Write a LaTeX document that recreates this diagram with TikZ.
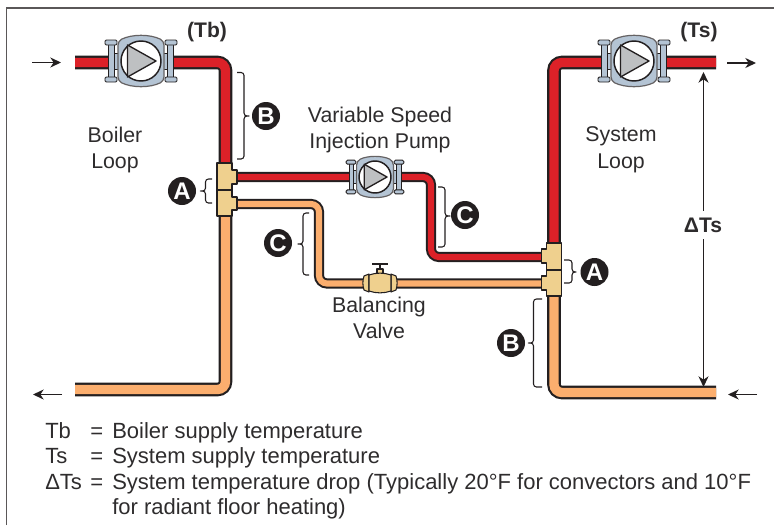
\documentclass[tikz,border=0pt]{standalone}
\usepackage{fontspec}
\setmainfont{Liberation Sans}
\usetikzlibrary{arrows.meta}
\definecolor{ink}{HTML}{231F20}
\definecolor{txt}{HTML}{2E2C2D}
\definecolor{hot}{HTML}{DC2128}
\definecolor{warm}{HTML}{FBAE6E}
\definecolor{brass}{HTML}{EFD08E}
\definecolor{steel}{HTML}{B4C4D4}
\definecolor{cone}{HTML}{BEC0C2}
\tikzset{
  mainpipe/.style={line width=1.6pt,draw=ink,double distance=7pt,rounded corners=6pt},
  branchpipe/.style={line width=1.5pt,draw=ink,double distance=4.6pt,rounded corners=6pt},
  teefit/.style={draw=ink,fill=brass,line width=1pt,line join=round},
  curly/.style={draw=ink,line width=.8pt,rounded corners=2.2pt},
  flow/.style={draw=ink,line width=1pt,-{Stealth[length=8pt,width=7.5pt,inset=2.5pt]}},
  badge/.style={circle,fill=ink,text=white,font=\fontsize{18}{18}\selectfont\bfseries,minimum size=21pt,inner sep=0pt},
  lab/.style={text=txt,font=\fontsize{16}{16}\selectfont,inner sep=0pt,align=center},
  blab/.style={text=txt,font=\fontsize{15.8}{15.8}\selectfont\bfseries,inner sep=0pt},
  leg/.style={text=txt,font=\fontsize{16.5}{16.5}\selectfont,inner sep=0pt,anchor=base west},
}
\newcommand{\pumpat}[3]{%
\begin{scope}[shift={(#1,#2)},scale=#3]
  \foreach \s in {-1,1}{
    \fill[steel,draw=ink,line width=.6pt] (\s*27,-8) rectangle (\s*22,8);
    \fill[steel,draw=ink,line width=.7pt] (\s*32.5,-19) rectangle (\s*26.5,19);
    \fill[steel,draw=ink,line width=.7pt,rounded corners=1pt] (\s*36,-21) rectangle (\s*24,-16);
    \fill[steel,draw=ink,line width=.7pt,rounded corners=1pt] (\s*36,16) rectangle (\s*24,21);
  }
  \fill[steel,draw=ink!70,line width=.9pt,rounded corners=3pt]
    (-23,-20) .. controls (-9,-27) and (9,-27) .. (23,-20) -- (23,20)
    .. controls (9,27) and (-9,27) .. (-23,20) -- cycle;
  \fill[white,draw=ink,line width=1.1pt] (0,0) circle (20);
  \fill[cone,draw=ink,line width=1pt,line join=round] (-13.5,-16) -- (15,0) -- (-13.5,16) -- cycle;
\end{scope}}
\begin{document}
\begin{tikzpicture}[x=.75pt,y=-.75pt]
\path[use as bounding box] (0,0) rectangle (774,525);
% frame
\coordinate (fa) at (6.5,525); \coordinate (fb) at (6.5,8); \coordinate (fc) at (774,8);
\draw[draw=ink!75,line width=.8pt] (fa) -- (fb) -- (fc);
% junction coordinates
\coordinate (bl1) at (75,62.5); \coordinate (bl2) at (225.5,62.5); \coordinate (bl3) at (225.5,170);
\coordinate (bl4) at (225.5,210); \coordinate (bl5) at (225.5,389.5); \coordinate (bl6) at (75,389.5);
\coordinate (sl1) at (716,62.5); \coordinate (sl2) at (554,62.5); \coordinate (sl3) at (554,250);
\coordinate (sl4) at (554,290); \coordinate (sl5) at (554,392.5); \coordinate (sl6) at (716,392.5);
\coordinate (rb1) at (235,177); \coordinate (rb2) at (431,177); \coordinate (rb3) at (431,257); \coordinate (rb4) at (545,257);
\coordinate (ob1) at (235,204); \coordinate (ob2) at (319,204); \coordinate (ob3) at (319,283.5); \coordinate (ob4) at (545,283.5);
% pipes
\draw[mainpipe,double=hot] (bl1) -- (bl2) -- (bl3);
\draw[mainpipe,double=warm] (bl4) -- (bl5) -- (bl6);
\draw[mainpipe,double=hot] (sl1) -- (sl2) -- (sl3);
\draw[mainpipe,double=warm] (sl4) -- (sl5) -- (sl6);
\draw[branchpipe,double=hot] (rb1) -- (rb2) -- (rb3) -- (rb4);
\draw[branchpipe,double=warm] (ob1) -- (ob2) -- (ob3) -- (ob4);
% tees
\draw[teefit] (217,163) -- (232,163) -- (232,170) -- (237,170) -- (237,184) -- (232,184) -- (232,190) -- (217,190) -- cycle;
\draw[teefit] (217,190) -- (232,190) -- (232,197) -- (237,197) -- (237,210) -- (232,210) -- (232,216) -- (217,216) -- cycle;
\draw[teefit] (561.5,243) -- (546.5,243) -- (546.5,249) -- (541.5,249) -- (541.5,263) -- (546.5,263) -- (546.5,270) -- (561.5,270) -- cycle;
\draw[teefit] (561.5,270) -- (546.5,270) -- (546.5,276) -- (541.5,276) -- (541.5,290) -- (546.5,290) -- (546.5,296) -- (561.5,296) -- cycle;
% pumps
\pumpat{141}{61}{1}
\pumpat{375}{177}{.8}
\pumpat{634}{61}{1}
% valve
\draw[draw=ink,line width=1.6pt] (372,264) -- (388,264);
\draw[draw=ink,line width=1.2pt] (380,264) -- (380,269);
\draw[teefit,line width=.8pt] (377,275) -- (377,269) -- (383,269) -- (383,275);
\draw[teefit,line width=.8pt] (364,276) -- (369,274) -- (369,292) -- (364,290) .. controls (362.5,285) and (362.5,281) .. (364,276) -- cycle;
\draw[teefit,line width=.8pt] (396,276) -- (391,274) -- (391,292) -- (396,290) .. controls (397.5,285) and (397.5,281) .. (396,276) -- cycle;
\draw[teefit,line width=.8pt] (369,275) .. controls (376,272.5) and (384,272.5) .. (391,275) -- (391,291) .. controls (384,293.5) and (376,293.5) .. (369,291) -- cycle;
% braces
\draw[curly] (237,72.5) -- (244,72.5) -- (244,116) -- (249,116) -- (244,116) -- (244,159) -- (237,159);
\draw[curly] (212,179) -- (205.5,179) -- (205.5,191) -- (200.5,191) -- (205.5,191) -- (205.5,203) -- (212,203);
\draw[curly] (309,213) -- (303,213) -- (303,244) -- (297.5,244) -- (303,244) -- (303,275) -- (309,275);
\draw[curly] (438,187) -- (445,187) -- (445,216) -- (450,216) -- (445,216) -- (445,247) -- (438,247);
\draw[curly] (564,260) -- (572,260) -- (572,272) -- (578,272) -- (572,272) -- (572,283) -- (564,283);
\draw[curly] (542,299) -- (533.5,299) -- (533.5,343) -- (528,343) -- (533.5,343) -- (533.5,387) -- (542,387);
% badges
\node[badge] (bB1) at (266,116) {B};
\node[badge] (bA1) at (182,191) {A};
\node[badge] (bC1) at (278,243) {C};
\node[badge] (bC2) at (465,215) {C};
\node[badge] (bA2) at (594.5,272) {A};
\node[badge] (bB2) at (511,343) {B};
% flow arrows
\coordinate (f1a) at (32,62.5); \coordinate (f1b) at (61,62.5);
\coordinate (f2a) at (62,394.5); \coordinate (f2b) at (33,394.5);
\coordinate (f3a) at (727,63); \coordinate (f3b) at (756,63);
\coordinate (f4a) at (757,394.5); \coordinate (f4b) at (728,394.5);
\draw[flow] (f1a) -- (f1b);
\draw[flow] (f2a) -- (f2b);
\draw[flow] (f3a) -- (f3b);
\draw[flow] (f4a) -- (f4b);
% delta dimension
\node[blab] (dts) at (703,225) {ΔTs};
\coordinate (dtop) at (703.5,72); \coordinate (dbot) at (703.5,387);
\draw[flow] ([yshift=5pt]dts.north -| dtop) -- (dtop);
\draw[flow] ([yshift=-5pt]dts.south -| dbot) -- (dbot);
% labels
\node[blab] (tb) at (207,32.5) {(Tb)};
\node[blab] (ts) at (699,32.5) {(Ts)};
\node[lab] (boiler) at (115,150) {Boiler\\[4pt]Loop};
\node[lab] (system) at (621,150) {System\\[4pt]Loop};
\node[lab] (vsip) at (380,130) {Variable Speed\\[4pt]Injection Pump};
\node[lab] (bv) at (379,318) {Balancing\\[3pt]Valve};
% legend
\node[leg] (k1) at (45,438) {Tb};
\node[leg] (k2) at (45,463) {Ts};
\node[leg] (k3) at (45,489) {ΔTs};
\node[leg] (e1) at (90,438) {=};
\node[leg] (e2) at (90,463) {=};
\node[leg] (e3) at (90,489) {=};
\node[leg] (v1) at (112,438) {Boiler supply temperature};
\node[leg] (v2) at (112,463) {System supply temperature};
\node[leg] (v3) at (112,489) {System temperature drop (Typically 20°F for convectors and 10°F};
\node[leg] (v4) at (112,514) {for radiant floor heating)};
\end{tikzpicture}
\end{document}
